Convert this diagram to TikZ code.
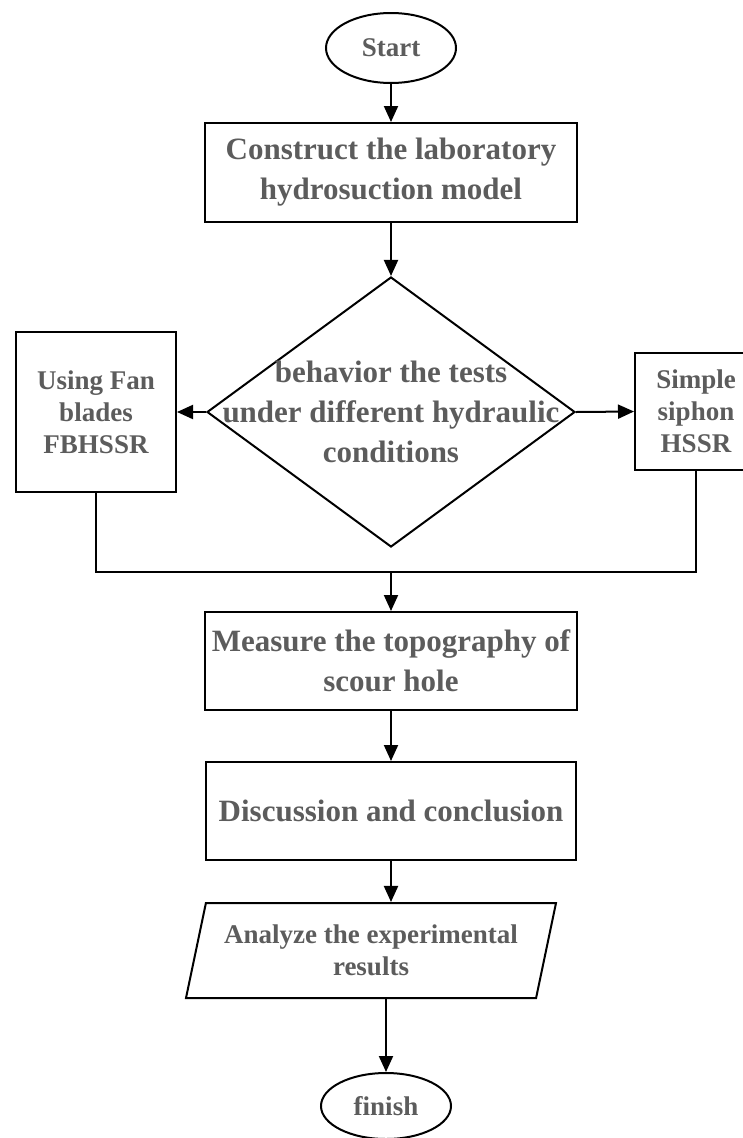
\documentclass[tikz,border=0pt]{standalone}
\usepackage{fontspec}
\setmainfont{Liberation Serif}
\usetikzlibrary{shapes.geometric,arrows.meta}
\definecolor{txtgray}{RGB}{92,92,92}
\tikzset{
  base/.style={draw=black, line width=2pt, inner sep=0pt, text=txtgray, font=\bfseries, align=center},
  bigtxt/.style={font=\fontsize{31}{40}\selectfont\bfseries},
  smalltxt/.style={font=\fontsize{27}{32}\selectfont\bfseries},
  term/.style={base, ellipse, smalltxt},
  procbox/.style={base, rectangle, bigtxt},
  sidebox/.style={base, rectangle, smalltxt},
  conn/.style={line width=2pt, draw=black},
  arr/.style={conn, -{Triangle[length=16pt,width=14pt]}},
}
\begin{document}
\begin{tikzpicture}[x=1pt,y=-1pt]
\useasboundingbox (0,0) rectangle (743,1138);
\node[term, minimum width=130, minimum height=70] (start) at (391,48) {Start};
\node[procbox, minimum width=372, minimum height=99] (b1) at (391,172.5) {Construct the laboratory\\hydrosuction model};
\node[base, diamond, minimum width=368, minimum height=270] (dia) at (391,412) {};
\node[text=txtgray, bigtxt, align=center, inner sep=0pt] (diat) at (dia.center) {behavior the tests\\under different hydraulic\\conditions};
\node[sidebox, minimum width=160, minimum height=160] (L) at (96,412) {Using Fan\\blades\\FBHSSR};
\node[sidebox, minimum width=122, minimum height=117] (R) at (696,411.5) {Simple\\siphon\\HSSR};
\coordinate (m) at (391,572);
\node[procbox, minimum width=372, minimum height=98] (b3) at (391,661) {Measure the topography of\\scour hole};
\node[procbox, minimum width=370, minimum height=98] (b4) at (391,811) {Discussion and conclusion};
\node[base, trapezium, trapezium left angle=68.7, trapezium right angle=111.3, trapezium stretches body, minimum width=370, minimum height=95, smalltxt] (par) at (371,950.5) {Analyze the experimental\\results};
\node[term, minimum width=130, minimum height=66] (fin) at (386,1106) {finish};
\draw[arr] (start.south) -- (start.south |- b1.north);
\draw[arr] (b1) -- (dia);
\draw[arr] (dia.west) -- (L.east);
\draw[arr] (dia.east) -- (R.west);
\draw[conn] (L.south) |- (m);
\draw[conn] (R.south) |- (m);
\draw[arr] (m) -- (b3);
\draw[arr] (b3) -- (b4);
\draw[arr] (b4.south) -- (b4.south |- par.north);
\draw[arr] (fin.north |- par.south) -- (fin.north);
\end{tikzpicture}
\end{document}
